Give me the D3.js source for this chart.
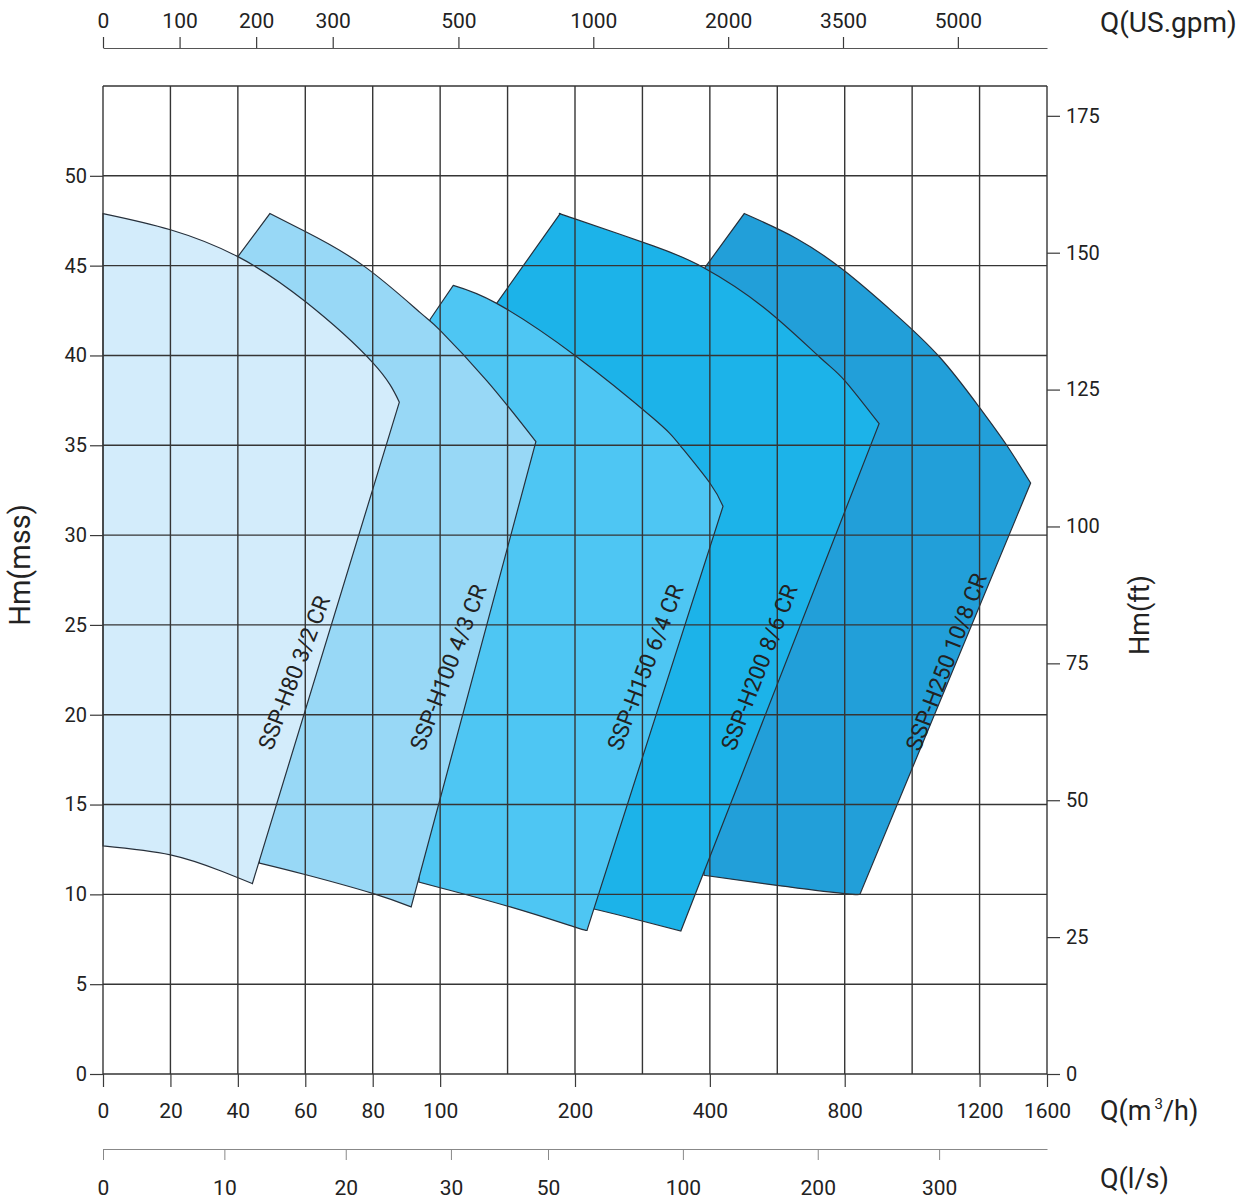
<!DOCTYPE html>
<html>
<head>
<meta charset="utf-8">
<script src="https://cdn.jsdelivr.net/npm/d3@7"></script>
<style>
  body { margin: 0; background: #fff; }
  text { font-family: Roboto, "Open Sans", sans-serif; fill: #222; }
</style>
</head>
<body>
<svg id="chart" width="1250" height="1200"></svg>
<script>
// flow breakpoints in m3/h and the grid cell each one sits on (14 cells wide)
const qBreaks = [0, 100, 200, 400, 800, 1200, 1600];
const cellBreaks = [0, 5, 7, 9, 11, 13, 14];

const gridQ = [0, 20, 40, 60, 80, 100, 150, 200, 300, 400, 600, 800, 1000, 1200, 1600];
const qTicks = [0, 20, 40, 60, 80, 100, 200, 400, 800, 1200, 1600];
const gpmTicks = [0, 100, 200, 300, 500, 1000, 2000, 3500, 5000];
const lsTicks = [0, 10, 20, 30, 50, 100, 200, 300];
const hTicks = [0, 5, 10, 15, 20, 25, 30, 35, 40, 45, 50];
const hGrid = [0, 5, 10, 15, 20, 25, 30, 35, 40, 45, 50, 55];
const ftTicks = [0, 25, 50, 75, 100, 125, 150, 175];

const pumpNames = ["SSP-H80 3/2 CR", "SSP-H100 4/3 CR", "SSP-H150 6/4 CR", "SSP-H200 8/6 CR", "SSP-H250 10/8 CR"];
const pumpColors = ["#d3ecfb", "#98d8f6", "#4ec6f3", "#1cb3e9", "#229fd9"];

// [Q m3/h, H m] : where each envelope leaves the one in front of it
const joins = [null, [40, 45.5], [97, 42.0], [141.9, 42.9], [392.8, 44.9]];
// upper curve, from peak to the right-hand corner
const topCurves = [
  [[0, 47.9], [20, 47.0], [40, 45.5], [60, 43.0], [80, 39.6], [87.9, 37.4]],
  [[49.5, 47.9], [60, 46.9], [77.2, 45.0], [94, 42.4], [100, 41.4], [134.5, 38.6], [171, 35.2]],
  [[109.7, 43.9], [141.9, 42.9], [200, 40.0], [316, 36.5], [355.7, 35.0], [400, 32.9], [439, 31.6]],
  [[189, 47.9], [200, 47.6], [316, 46.1], [390.3, 44.9], [558, 42.7], [726, 39.9], [800, 38.6], [902, 36.2]],
  [[502, 47.9], [658, 46.5], [800, 44.7], [944, 42.4], [1082, 39.9], [1200, 37.1], [1361, 35.0], [1503, 32.9]]
];
// lower curve, from the bottom right corner back to the left
const bottomCurves = [
  [[44.3, 10.6], [35, 11.3], [20, 12.2], [0, 12.7]],
  [[91.4, 9.3], [80.2, 10.04], [60.2, 11.09], [46.4, 11.74]],
  [[217.8, 8.0], [200, 8.18], [152, 9.3], [100, 10.37], [93.7, 10.68]],
  [[357, 7.96], [276.6, 8.74], [222, 9.24]],
  [[845, 10.0], [800, 10.04], [599, 10.5], [391.3, 11.06]]
];
const labelAt = [[57.2, 22.3], [107.3, 22.6], [306.8, 22.6], [551.6, 22.6], [1106, 22.9]];

const GPM = 0.22712; // m3/h per US gpm
const LS = 3.6;      // m3/h per l/s
const FT = 0.3048;   // m per ft

const plotLeft = 103, plotRight = 1047, plotTop = 86, plotBottom = 1074;

const svg = d3.select("#chart");

const x = d3.scaleLinear()
  .domain(qBreaks)
  .range(cellBreaks.map(c => plotLeft + c * (plotRight - plotLeft) / 14));
const xGpm = d3.scaleLinear().domain(qBreaks.map(q => q / GPM)).range(x.range());
const xLs = d3.scaleLinear().domain(qBreaks.map(q => q / LS)).range(x.range());
const y = d3.scaleLinear().domain([0, 55]).range([plotBottom, plotTop]);
const yFt = d3.scaleLinear().domain([0, 55 / FT]).range([plotBottom, plotTop]);

const line = d3.line()
  .x(d => x(d[0]))
  .y(d => y(d[1]))
  .curve(d3.curveNatural);

function outline(i) {
  let d = line(topCurves[i]);
  if (joins[i]) d = `M${x(joins[i][0])},${y(joins[i][1])}` + d.replace(/^M/, "L");
  return d + line(bottomCurves[i]).replace(/^M/, "L") + "Z";
}

// back to front
const pumps = svg.append("g");
d3.range(pumpNames.length).reverse().forEach(i => {
  pumps.append("path")
    .attr("d", outline(i))
    .attr("fill", pumpColors[i])
    .attr("stroke", "#27303b")
    .attr("stroke-width", 1.2)
    .attr("stroke-linejoin", "miter");
});

// grid over the envelopes
const grid = svg.append("g").attr("stroke", "#353535").attr("stroke-width", 1.4);
grid.selectAll(".v").data(gridQ).join("line")
  .attr("class", "v")
  .attr("x1", d => x(d)).attr("x2", d => x(d))
  .attr("y1", y(0)).attr("y2", y(55));
grid.selectAll(".h").data(hGrid).join("line")
  .attr("class", "h")
  .attr("x1", x(0)).attr("x2", x(1600))
  .attr("y1", d => y(d)).attr("y2", d => y(d));

function styleAxis(g, size) {
  g.selectAll(".tick line").attr("stroke", "#3a3a3a").attr("stroke-width", 1.2);
  g.selectAll(".tick text").attr("font-size", size).attr("fill", "#222")
    .attr("font-family", "Roboto, 'Open Sans', sans-serif");
}

const fmt = d3.format("d");

svg.append("g")
  .attr("transform", `translate(${plotLeft},0)`)
  .call(d3.axisLeft(y).tickValues(hTicks).tickFormat(fmt).tickSize(13).tickPadding(3))
  .call(g => g.select(".domain").remove())
  .call(g => styleAxis(g, 20));

svg.append("g")
  .attr("transform", `translate(${plotRight},0)`)
  .call(d3.axisRight(yFt).tickValues(ftTicks).tickFormat(fmt).tickSize(13).tickPadding(6))
  .call(g => g.select(".domain").remove())
  .call(g => styleAxis(g, 20));

svg.append("g")
  .attr("transform", `translate(0,${plotBottom})`)
  .call(d3.axisBottom(x).tickValues(qTicks).tickFormat(fmt).tickSize(13).tickPadding(16))
  .call(g => g.select(".domain").remove())
  .call(g => styleAxis(g, 21));

svg.append("g")
  .attr("transform", "translate(0,48)")
  .call(d3.axisTop(xGpm).tickValues(gpmTicks).tickFormat(fmt).tickSize(11).tickSizeOuter(0).tickPadding(9))
  .call(g => g.select(".domain").attr("stroke", "#555").attr("stroke-width", 1.2))
  .call(g => styleAxis(g, 21));

svg.append("g")
  .attr("transform", "translate(0,1149)")
  .call(d3.axisBottom(xLs).tickValues(lsTicks).tickFormat(fmt).tickSize(11).tickSizeOuter(0).tickPadding(20))
  .call(g => g.select(".domain").attr("stroke", "#888").attr("stroke-width", 1.2))
  .call(g => g.selectAll(".tick line").attr("stroke", "#888"))
  .call(g => g.selectAll(".tick text").attr("font-size", 21).attr("fill", "#222")
    .attr("font-family", "Roboto, 'Open Sans', sans-serif"));

// envelope labels
svg.append("g").selectAll("text").data(pumpNames).join("text")
  .attr("transform", (d, i) => `translate(${x(labelAt[i][0])},${y(labelAt[i][1])}) rotate(-69)`)
  .attr("text-anchor", "middle")
  .attr("dominant-baseline", "middle")
  .attr("font-size", 22.5)
  .text(d => d);

// axis titles
svg.append("text").attr("x", 1100).attr("y", 32).attr("font-size", 28).text("Q(US.gpm)");
const qm = svg.append("text").attr("x", 1100).attr("y", 1120).attr("font-size", 27);
qm.append("tspan").text("Q(m");
qm.append("tspan").attr("font-size", 15).attr("dy", -11).attr("dx", 3).text("3");
qm.append("tspan").attr("dy", 11).text("/h)");
svg.append("text").attr("x", 1100).attr("y", 1188).attr("font-size", 27).text("Q(l/s)");
svg.append("text")
  .attr("transform", "translate(30,565) rotate(-90)")
  .attr("text-anchor", "middle").attr("font-size", 29).text("Hm(mss)");
svg.append("text")
  .attr("transform", "translate(1149,615) rotate(-90)")
  .attr("text-anchor", "middle").attr("font-size", 27).text("Hm(ft)");
</script>
</body>
</html>
